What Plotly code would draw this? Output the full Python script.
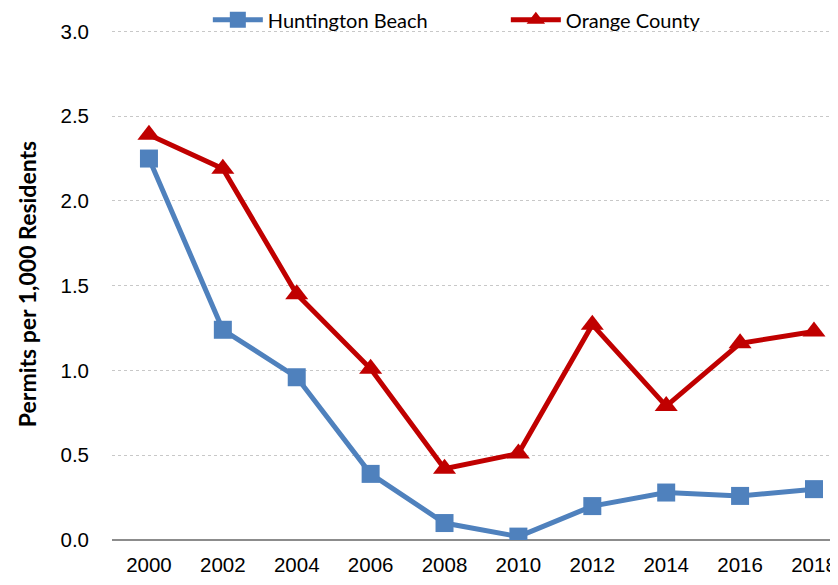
import plotly.graph_objects as go

# ==========================================
# DATA
# ==========================================

years = [2000, 2002, 2004, 2006, 2008, 2010, 2012, 2014, 2016, 2018]

huntington_beach = [2.25, 1.24, 0.96, 0.39, 0.10, 0.02, 0.20, 0.28, 0.26, 0.30]

orange_county = [2.39, 2.19, 1.45, 1.01, 0.42, 0.51, 1.27, 0.79, 1.16, 1.23]

y_ticks = [0.0, 0.5, 1.0, 1.5, 2.0, 2.5, 3.0]

# ==========================================
# FIGURE
# ==========================================

# page body keeps its default 8px margin, so the figure is 8px smaller
tick_font = dict(
    family="Liberation Sans Narrow, Arial Narrow, Liberation Sans, sans-serif",
    size=20.5,
    color="black",
)

fig = go.Figure()

fig.add_trace(
    go.Scatter(
        x=years,
        y=huntington_beach,
        mode="lines+markers",
        name="Huntington Beach",
        line=dict(color="#4F81BD", width=5),
        marker=dict(symbol="square", size=18, color="#4F81BD"),
    )
)

fig.add_trace(
    go.Scatter(
        x=years,
        y=orange_county,
        mode="lines+markers",
        name="Orange County",
        line=dict(color="#C00000", width=5),
        marker=dict(symbol="triangle-up", size=20, color="#C00000"),
    )
)

fig.update_layout(
    width=830,
    height=580,
    margin=dict(l=104, r=0, t=20, b=48, autoexpand=False),
    plot_bgcolor="white",
    paper_bgcolor="white",
    showlegend=True,
    legend=dict(
        orientation="h",
        x=0.132,
        y=1.016,
        xanchor="left",
        yanchor="middle",
        font=dict(family="Lato, Carlito, sans-serif", size=20, color="black"),
        itemwidth=50,
        entrywidth=233,
        bgcolor="rgba(0,0,0,0)",
    ),
    xaxis=dict(
        range=[1999, 2018.65],
        tickvals=years,
        showgrid=False,
        zeroline=False,
        showline=False,
        ticks="",
        ticklabelstandoff=10,
        tickfont=tick_font,
    ),
    yaxis=dict(
        range=[0, 3.02],
        tickvals=y_ticks,
        tickformat=".1f",
        showgrid=True,
        gridcolor="#C8C8C8",
        griddash="dot",
        gridwidth=1,
        zeroline=True,
        zerolinecolor="#8C8C8C",
        zerolinewidth=2,
        showline=False,
        ticks="",
        ticklabelstandoff=22,
        tickfont=tick_font,
        title=dict(
            text="<b>Permits per 1,000 Residents</b>",
            font=dict(family="Lato, Carlito, sans-serif", size=23, color="black"),
            standoff=17,
        ),
    ),
)

fig.write_html("out.html")
